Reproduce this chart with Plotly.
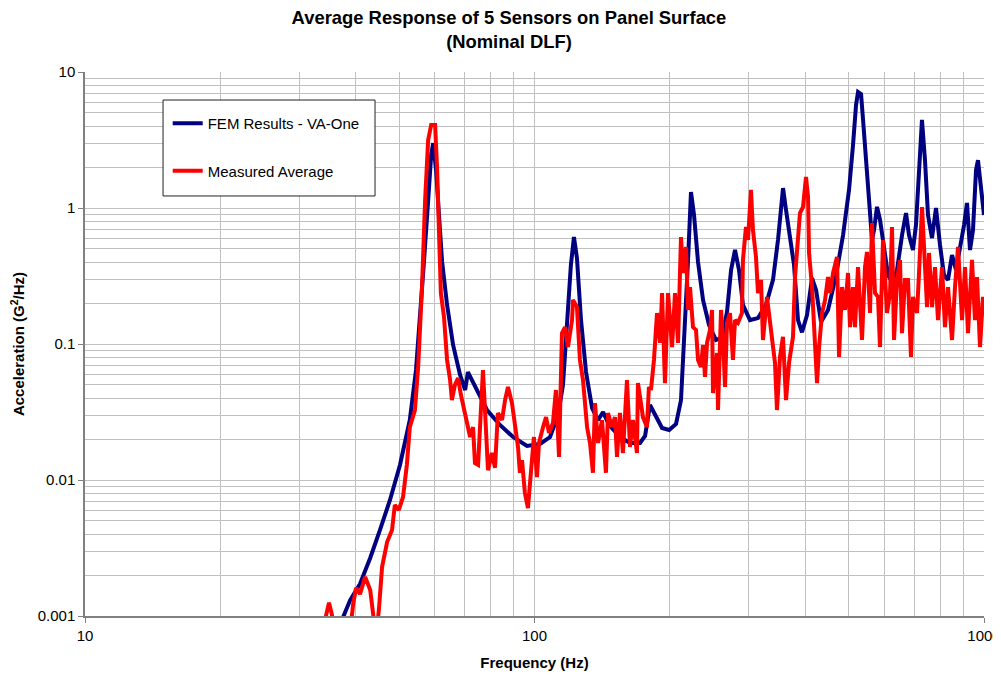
import plotly.graph_objects as go

# FEM prediction (VA-One), frequency in Hz and acceleration PSD in G^2/Hz
fem_freq = [
    36.9, 38.9, 40.9, 43.1, 45.3, 47.7, 50.2, 52.8, 54.5, 55.6,
    56.8, 58.0, 58.9, 59.5, 60.4, 61.3, 62.3, 63.9, 65.9, 68.3,
    70.1, 71.1, 72.6, 74.8, 78.4, 83.8, 89.6, 96.2, 102.8, 108.3,
    112.8, 115.7, 118.1, 120.5, 122.4, 124.3, 126.9, 130.2, 134.3, 138.5,
    142.1, 146.5, 154.9, 163.1, 171.7, 176.2, 180.7, 185.4, 192.2, 199.3,
    206.5, 211.8, 216.2, 219.6, 222.9, 226.4, 231.1, 237.1, 244.5, 253.4,
    261.3, 268.1, 273.7, 279.3, 285.1, 290.9, 301.6, 314.2, 327.3, 339.3,
    348.1, 353.5, 357.2, 362.7, 370.2, 377.9, 385.7, 393.6, 403.9, 414.4,
    423.0, 434.0, 449.8, 468.7, 485.8, 500.9, 511.2, 519.2, 524.6, 532.7,
    538.2, 546.5, 554.9, 563.5, 569.3, 578.1, 587.1, 599.2, 611.6, 624.2,
    640.4, 657.1, 670.7, 681.0, 695.0, 705.8, 716.7, 727.8, 739.1, 750.6,
    766.1, 782.0, 798.2, 814.7, 831.6, 848.8, 866.5, 884.4, 902.8, 916.6,
    930.8, 945.2, 960.0, 969.7, 984.7, 1000,
]
fem_accel = [
    0.00086, 0.00131, 0.00172, 0.00267, 0.00428, 0.00713, 0.0129, 0.0276, 0.0644, 0.150,
    0.415, 1.14, 2.45, 3.0, 1.90, 0.889, 0.401, 0.194, 0.0984, 0.0592,
    0.0459, 0.0622, 0.0543, 0.0437, 0.0327, 0.0254, 0.0207, 0.0178, 0.0184, 0.0207,
    0.0301, 0.050, 0.127, 0.381, 0.612, 0.428, 0.150, 0.0622, 0.0338, 0.0276,
    0.0316, 0.0254, 0.0207, 0.0187, 0.0187, 0.0211, 0.0356, 0.0301, 0.0241, 0.0233,
    0.0258, 0.0387, 0.127, 0.415, 1.31, 0.889, 0.401, 0.211, 0.138, 0.107,
    0.111, 0.172, 0.350, 0.491, 0.350, 0.194, 0.150, 0.155, 0.194, 0.296,
    0.582, 1.05, 1.40, 0.967, 0.582, 0.381, 0.150, 0.122, 0.163, 0.305,
    0.250, 0.145, 0.178, 0.321, 0.632, 1.36, 2.90, 5.71, 7.13, 6.89,
    4.44, 2.25, 1.05, 0.582, 0.689, 1.02, 0.817, 0.535, 0.321, 0.286,
    0.350, 0.632, 0.919, 0.632, 0.491, 0.750, 1.90, 4.44, 2.25, 0.889,
    0.601, 1.0, 0.535, 0.321, 0.296, 0.451, 0.350, 0.508, 0.750, 1.09,
    0.491, 0.689, 1.90, 2.25, 1.48, 0.889,
]

# measured average of the 5 sensors
meas_freq = [
    33.7, 34.4, 34.9, 35.4, 36.2, 37.5, 38.9, 39.5, 40.1, 40.9,
    42.0, 43.1, 43.7, 44.4, 45.1, 45.8, 47.0, 48.2, 48.9, 49.9,
    51.0, 52.0, 52.8, 54.2, 55.1, 56.2, 57.1, 58.0, 58.9, 60.1,
    60.7, 61.3, 61.9, 62.9, 63.9, 64.9, 65.5, 66.5, 67.6, 68.6,
    69.7, 70.8, 71.9, 73.0, 73.7, 74.9, 76.0, 76.8, 77.6, 78.8,
    80.4, 81.7, 82.9, 84.7, 86.0, 87.3, 89.1, 90.5, 91.9, 92.8,
    93.8, 95.2, 96.7, 98.7, 99.7, 101.3, 102.3, 104.5, 106.1, 107.7,
    109.9, 111.6, 112.8, 113.4, 115.1, 116.9, 118.7, 121.2, 121.8, 124.3,
    126.2, 128.2, 130.9, 132.9, 134.9, 136.3, 138.5, 141.3, 144.2, 145.7,
    148.7, 151.0, 152.6, 154.9, 157.3, 160.6, 163.1, 165.6, 169.0, 169.9,
    174.3, 177.9, 179.7, 181.6, 184.4, 187.3, 190.2, 192.2, 195.1, 198.2,
    202.3, 205.4, 208.6, 211.8, 214.0, 217.3, 219.5, 221.8, 225.2, 228.7,
    231.1, 234.6, 237.1, 239.5, 242.0, 245.7, 248.3, 249.5, 254.7, 256.0,
    260.0, 262.7, 265.4, 268.1, 272.2, 276.4, 279.3, 283.6, 289.4, 290.9,
    295.4, 298.5, 303.1, 306.2, 311.0, 314.2, 319.1, 322.3, 329.0, 334.1,
    339.3, 342.8, 346.3, 351.7, 357.1, 362.7, 368.3, 375.9, 379.8, 383.7,
    389.6, 395.7, 401.8, 406.0, 408.1, 414.4, 418.7, 425.2, 429.6, 436.2,
    443.0, 449.8, 454.5, 461.5, 471.0, 475.9, 483.2, 490.7, 498.3, 503.4,
    511.2, 516.4, 524.5, 535.3, 543.6, 549.2, 557.7, 563.4, 572.2, 581.0,
    587.0, 596.1, 608.5, 617.9, 624.2, 630.7, 640.5, 650.3, 657.0, 667.2,
    677.5, 688.0, 695.1, 709.6, 716.9, 728.0, 735.5, 746.9, 754.6, 766.3,
    778.0, 790.1, 806.5, 818.9, 831.7, 848.9, 862.0, 875.5, 893.6, 907.4,
    921.3, 940.4, 955.0, 964.9, 979.7, 994.9, 1000,
]
meas_accel = [
    0.00076, 0.00107, 0.00125, 0.00103, 0.00067, 0.00034, 0.00076, 0.00123, 0.00161, 0.00145,
    0.00194, 0.00155, 0.00107, 0.00067, 0.00115, 0.00229, 0.0035, 0.00429, 0.00655, 0.00602,
    0.0075, 0.0129, 0.0245, 0.0327, 0.0678, 0.262, 1.145, 3.16, 4.08, 4.08,
    2.00, 0.655, 0.237, 0.158, 0.0763, 0.0543, 0.0387, 0.0499, 0.0562, 0.0422,
    0.0327, 0.0267, 0.0207, 0.0245, 0.0133, 0.0129, 0.0387, 0.0644, 0.0327, 0.0118,
    0.0158, 0.0123, 0.0311, 0.0276, 0.0387, 0.0483, 0.0368, 0.0245, 0.0175, 0.0113,
    0.0140, 0.00802, 0.00622, 0.0140, 0.0207, 0.0105, 0.0187, 0.0245, 0.0290, 0.0222,
    0.0262, 0.0459, 0.0245, 0.0148, 0.120, 0.133, 0.0950, 0.150, 0.211, 0.187,
    0.0763, 0.0543, 0.0245, 0.0187, 0.0113, 0.0368, 0.0187, 0.0276, 0.0113, 0.0311,
    0.0245, 0.0290, 0.0148, 0.0311, 0.0158, 0.0543, 0.0175, 0.0276, 0.0158, 0.0516,
    0.0290, 0.0245, 0.0483, 0.0459, 0.0763, 0.169, 0.102, 0.237, 0.0516, 0.237,
    0.0950, 0.237, 0.102, 0.612, 0.333, 0.517, 0.178, 0.262, 0.133, 0.127,
    0.0763, 0.0678, 0.0983, 0.0572, 0.102, 0.127, 0.178, 0.0436, 0.0859, 0.0327,
    0.178, 0.107, 0.0483, 0.143, 0.169, 0.0763, 0.150, 0.143, 0.169, 0.415,
    0.725, 0.582, 1.357, 0.689, 0.436, 0.237, 0.296, 0.107, 0.222, 0.150,
    0.107, 0.0725, 0.0327, 0.0803, 0.113, 0.0387, 0.0725, 0.113, 0.311, 0.467,
    0.919, 1.017, 1.690, 1.205, 0.467, 0.262, 0.120, 0.0516, 0.0950, 0.169,
    0.211, 0.311, 0.237, 0.333, 0.436, 0.0803, 0.262, 0.178, 0.333, 0.133,
    0.262, 0.133, 0.368, 0.107, 0.368, 0.475, 0.169, 0.776, 0.237, 0.222,
    0.0950, 0.582, 0.169, 0.237, 0.725, 0.107, 0.296, 0.415, 0.120, 0.296,
    0.296, 0.0803, 0.222, 0.169, 0.333, 1.017, 0.517, 0.187, 0.467, 0.187,
    0.368, 0.150, 0.368, 0.133, 0.262, 0.107, 0.262, 0.517, 0.150, 0.368,
    0.120, 0.415, 0.150, 0.311, 0.0950, 0.222, 0.178,
]

x_ticks = [10, 100, 1000]
x_labels = ["10", "100", "1000"]
y_ticks = [0.001, 0.01, 0.1, 1, 10]
y_labels = ["0.001", "0.01", "0.1", "1", "10"]

x_minor = [m * d for d in (10, 100) for m in range(2, 10)]
y_minor = [m * d for d in (0.001, 0.01, 0.1, 1) for m in range(2, 10)]

FONT = "Liberation Sans, Arial, sans-serif"
GRID = "#c0c0c0"

fig = go.Figure()
fig.add_trace(go.Scatter(
    x=fem_freq, y=fem_accel, mode="lines", name="FEM Results - VA-One",
    legendgroup="fem", line=dict(color="#000080", width=4),
))
fig.add_trace(go.Scatter(
    x=meas_freq, y=meas_accel, mode="lines", name="Measured Average",
    legendgroup="meas", line=dict(color="#ff0000", width=4),
))

# legend frame (drawn as a shape so its size matches the original box)
fig.add_shape(
    type="rect", xref="paper", yref="paper",
    x0=0.0868, x1=0.3226, y0=0.7721, y1=0.9485,
    line=dict(color="#222222", width=1), fillcolor="white", layer="above",
)

# the page adds an 8px body margin, so the figure is 8px smaller
fig.update_layout(
    width=993,
    height=667,
    paper_bgcolor="white",
    plot_bgcolor="white",
    font=dict(family=FONT, size=15, color="black"),
    margin=dict(l=77, r=17, t=64, b=59),
    title=dict(
        text="<b>Average Response of 5 Sensors on Panel Surface<br>(Nominal DLF)</b>",
        font=dict(size=18.4),
        x=0.5045, xref="container", xanchor="center",
        y=0.976, yref="container", yanchor="top",
    ),
    legend=dict(
        x=0.092, y=0.9357, xanchor="left", yanchor="top",
        bgcolor="rgba(0,0,0,0)", borderwidth=0,
        font=dict(size=15), itemwidth=30, tracegroupgap=25,
        traceorder="grouped",
    ),
    showlegend=True,
)

fig.update_xaxes(
    type="log", range=[1, 3], automargin=False,
    tickmode="array", tickvals=x_ticks, ticktext=x_labels,
    ticks="outside", ticklen=5, tickcolor="#808080",
    showline=True, linecolor="#808080", linewidth=1.5,
    showgrid=True, gridcolor=GRID, gridwidth=1,
    minor=dict(tickmode="array", tickvals=x_minor, showgrid=True,
               gridcolor=GRID, gridwidth=1, ticks=""),
    zeroline=False,
    title=dict(text="<b>Frequency (Hz)</b>", font=dict(size=15), standoff=15),
)
fig.update_yaxes(
    type="log", range=[-3, 1], automargin=False,
    tickmode="array", tickvals=y_ticks, ticktext=y_labels,
    ticks="outside", ticklen=5, tickcolor="#808080",
    showline=True, linecolor="#808080", linewidth=1.5,
    showgrid=True, gridcolor=GRID, gridwidth=1,
    minor=dict(tickmode="array", tickvals=y_minor, showgrid=True,
               gridcolor=GRID, gridwidth=1, ticks=""),
    zeroline=False,
    title=dict(text="<b>Acceleration (G<sup>2</sup>/Hz)</b>", font=dict(size=15), standoff=10),
)

fig.write_html("out.html")
